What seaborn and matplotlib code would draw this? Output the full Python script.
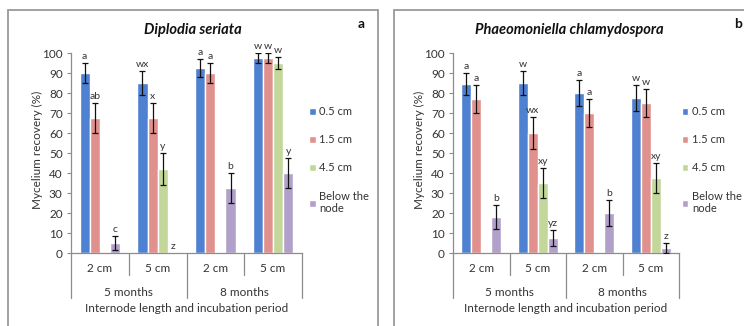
import numpy as np
import pandas as pd
import matplotlib
matplotlib.use("Agg")
import matplotlib.pyplot as plt
from matplotlib.patches import Rectangle
import seaborn as sns

sns.set_theme(style="white")
plt.rcParams['font.family'] = ['Lato', 'DejaVu Sans']

# ---------------- data ----------------
categories = ["5 months|2 cm", "5 months|5 cm", "8 months|2 cm", "8 months|5 cm"]
internode_labels = ["2 cm", "5 cm", "2 cm", "5 cm"]
period_labels = ["5 months", "8 months"]
series = ["0.5 cm", "1.5 cm", "4.5 cm", "Below the\nnode"]
colors = ["#4F81D2", "#E0918D", "#C4D79B", "#B1A1CA"]

# Panel a: Diplodia seriata (rows = series, columns = categories)
a_vals = [[90.0, 85.0, 92.5, 97.5],
          [67.5, 67.5, 90.0, 97.5],
          [np.nan, 42.0, np.nan, 95.0],
          [5.0, 0.0, 32.5, 40.0]]
a_errs = [[5.0, 6.0, 4.5, 2.5],
          [7.5, 7.5, 5.0, 2.5],
          [np.nan, 8.0, np.nan, 3.0],
          [3.5, 0.0, 7.5, 7.5]]
a_letters = [["a", "wx", "a", "w"],
             ["ab", "x", "a", "w"],
             ["", "y", "", "w"],
             ["c", "z", "b", "y"]]

# Panel b: Phaeomoniella chlamydospora
b_vals = [[84.5, 85.0, 80.0, 77.5],
          [77.0, 60.0, 70.0, 75.0],
          [np.nan, 35.0, np.nan, 37.5],
          [18.0, 7.5, 20.0, 2.5]]
b_errs = [[5.5, 6.0, 6.5, 6.5],
          [7.0, 8.0, 7.0, 7.0],
          [np.nan, 7.5, np.nan, 7.5],
          [6.0, 4.0, 6.3, 2.5]]
b_letters = [["a", "w", "a", "w"],
             ["a", "wx", "a", "w"],
             ["", "xy", "", "xy"],
             ["b", "yz", "b", "z"]]

titles = ["Diplodia seriata", "Phaeomoniella chlamydospora"]
panel_tags = ["a", "b"]
ylabel = "Mycelium recovery (%)"
xlabel = "Internode length and incubation period"

# ---------------- figure ----------------
W, H = 744, 326
fig = plt.figure(figsize=(W / 100, H / 100), dpi=100)


def fx(px):
    return px / W


def fy(py):
    return 1 - py / H


# panel frames
fig.patches.append(Rectangle((fx(8), fy(340)), fx(370), fy(10) - fy(340),
                             transform=fig.transFigure, fill=False,
                             edgecolor="#9a9a9a", lw=1.3, zorder=0))
fig.patches.append(Rectangle((fx(394), fy(340)), fx(370), fy(10) - fy(340),
                             transform=fig.transFigure, fill=False,
                             edgecolor="#9a9a9a", lw=1.3, zorder=0))

panels = [
    dict(vals=a_vals, errs=a_errs, letters=a_letters, left=71, right=302,
         title_x=193, tag_x=361, ylab_x=37, leg_x=1.03),
    dict(vals=b_vals, errs=b_errs, letters=b_letters, left=453, right=679,
         title_x=569, tag_x=738, ylab_x=419, leg_x=1.012),
]

bar_width = 0.7
n = len(series)
text_col = "#333333"
axis_col = "#8c8c8c"

for p, spec in enumerate(panels):
    ax = fig.add_axes([fx(spec["left"]), fy(253),
                       fx(spec["right"] - spec["left"]), (253 - 53) / H])
    rows = []
    for si, s in enumerate(series):
        for ci, c in enumerate(categories):
            rows.append(dict(cat=c, series=s, val=spec["vals"][si][ci]))
    df = pd.DataFrame(rows)
    sns.barplot(data=df, x="cat", y="val", hue="series", order=categories,
                hue_order=series, palette=colors, width=bar_width,
                errorbar=None, saturation=1, ax=ax, legend=True)

    # error bars and letters
    for si in range(n):
        offset = (si - (n - 1) / 2) * bar_width / n
        for ci in range(len(categories)):
            v = spec["vals"][si][ci]
            e = spec["errs"][si][ci]
            if np.isnan(v):
                continue
            x = ci + offset
            if e and not np.isnan(e) and e > 0:
                ax.errorbar(x, v, yerr=e, fmt="none", ecolor="#111111",
                            elinewidth=0.9, capsize=2.2, capthick=0.9, zorder=5)
            else:
                e = 0
            lab = spec["letters"][si][ci]
            if lab:
                ax.text(x, v + e + 1.2, lab, ha="center", va="bottom",
                        fontsize=7.5, color=text_col)

    ax.set_ylim(0, 100)
    ax.set_xlim(-0.5, len(categories) - 0.5)
    ax.set_yticks(range(0, 101, 10))
    ax.tick_params(axis="y", which="both", left=True, length=3, width=0.8,
                   color=axis_col, labelsize=8.5, labelcolor=text_col, pad=3)
    ax.set_xticks([])
    ax.set_xlabel("")
    ax.set_ylabel("")
    for side in ["top", "right"]:
        ax.spines[side].set_visible(False)
    for side in ["left", "bottom"]:
        ax.spines[side].set_color(axis_col)
        ax.spines[side].set_linewidth(0.9)

    # multi-level category axis
    trans = ax.get_xaxis_transform()
    for ci, lab in enumerate(internode_labels):
        ax.text(ci, -0.075, lab, transform=trans, ha="center", va="center",
                fontsize=8.5, color=text_col)
    for gi, lab in enumerate(period_labels):
        ax.text(gi * 2 + 0.5, -0.195, lab, transform=trans, ha="center",
                va="center", fontsize=8.5, color=text_col)
    for b in [-0.5, 1.5, 3.5]:
        ax.plot([b, b], [0, -0.225], transform=trans, color=axis_col,
                lw=0.9, clip_on=False)
    for b in [0.5, 2.5]:
        ax.plot([b, b], [0, -0.11], transform=trans, color=axis_col,
                lw=0.9, clip_on=False)
    ax.text(1.5, -0.28, xlabel, transform=trans, ha="center", va="center",
            fontsize=8.5, color=text_col)

    # legend
    sns.move_legend(ax, loc="upper left", bbox_to_anchor=(spec["leg_x"], 0.735),
                    frameon=False, title=None, fontsize=8, labelspacing=1.55,
                    handlelength=0.6, handleheight=0.6, handletextpad=0.35,
                    borderaxespad=0, borderpad=0)
    for t in ax.get_legend().get_texts():
        t.set_color(text_col)

    # titles and labels
    fig.text(fx(spec["title_x"]), fy(30), titles[p], ha="center", va="center",
             fontsize=10.5, fontweight="bold", fontstyle="italic", color="#111111")
    fig.text(fx(spec["tag_x"]), fy(24), panel_tags[p], ha="center", va="center",
             fontsize=10, fontweight="bold", color="#111111")
    fig.text(fx(spec["ylab_x"]), fy(150), ylabel, rotation=90, ha="center",
             va="center", fontsize=8.5, color=text_col)

fig.savefig("out.png", dpi=100)
